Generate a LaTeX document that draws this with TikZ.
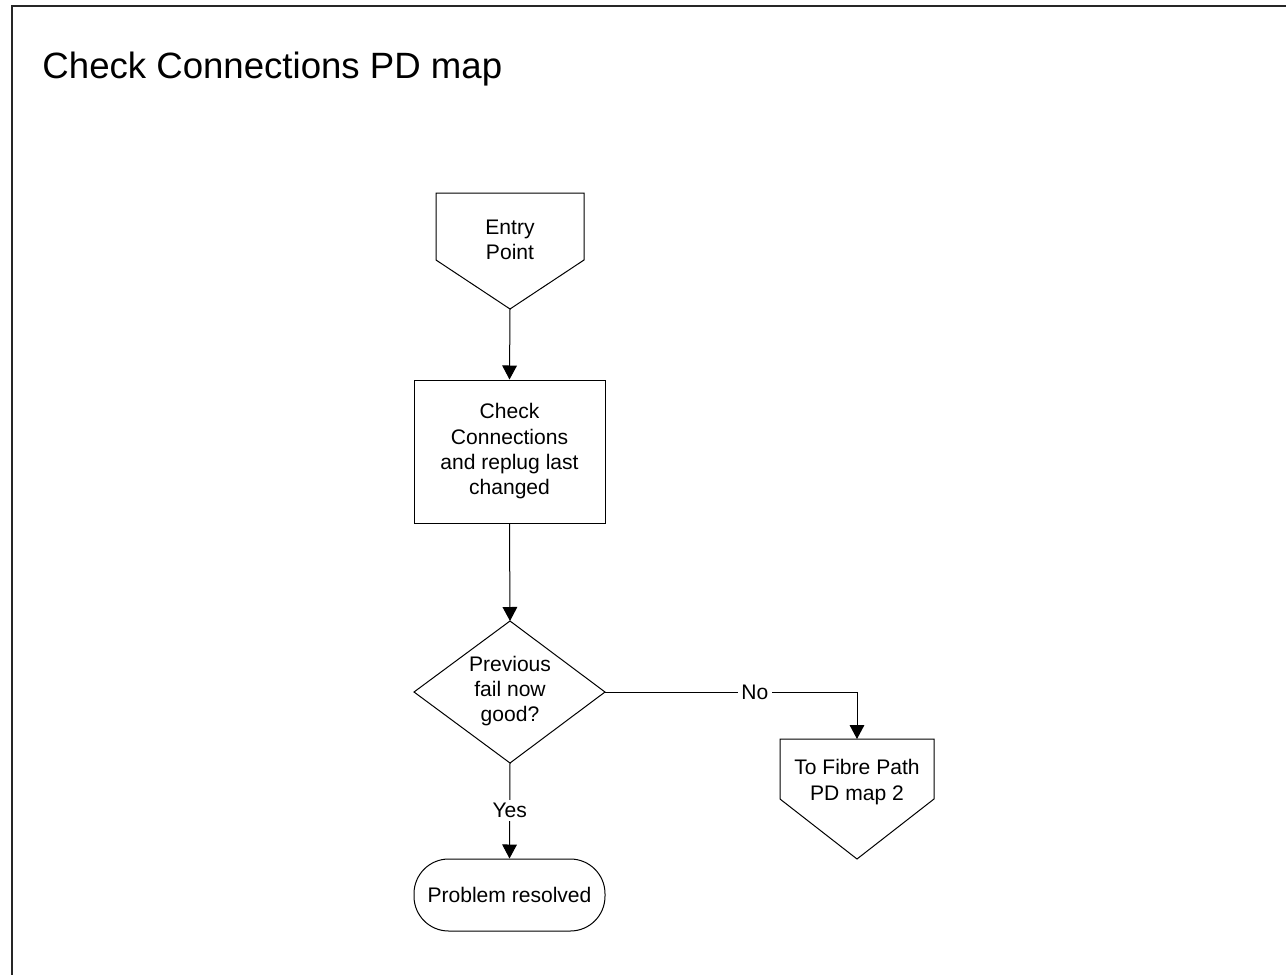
\documentclass[tikz,border=0pt]{standalone}
\usepackage{fontspec}
\setmainfont{Liberation Sans}
\usetikzlibrary{arrows.meta}
\begin{document}
\begin{tikzpicture}[x=0.75pt,y=-0.75pt,
  line width=0.75pt,
  shp/.style={draw=black, line width=0.75pt},
  txt/.style={align=center, font=\fontsize{15.8pt}{19pt}\selectfont, inner sep=0pt},
  arr/.style={-{Triangle[width=11pt,length=10.5pt]}},
  lbl/.style={fill=white, font=\fontsize{15.8pt}{19pt}\selectfont, inner sep=2.5pt}]
  \useasboundingbox (0,0) rectangle (1286,975);
  % open frame
  \draw[line width=1.3pt, black!85] (12,975) -- (12,6) -- (1286,6);
  % title
  \node[anchor=base west, inner sep=0pt, font=\fontsize{27.45pt}{32pt}\selectfont] (title) at (42,78) {Check Connections PD map};

  % entry point (off-page connector)
  \draw[shp] (436,193) -- (584,193) -- (584,260) -- (510,309) -- (436,260) -- cycle;
  \coordinate (entryTip) at (510,309);
  \node[txt] (entry) at (510,240) {Entry\\Point};

  % process box
  \node[shp, txt, minimum width=143.25pt, minimum height=107.25pt] (check) at (509.5,451.5)
    {Check\\Connections\\and replug last\\changed};

  % decision diamond
  \draw[shp] (510,621) -- (605,692) -- (510,763) -- (414,692) -- cycle;
  \coordinate (decTop) at (510,621);
  \coordinate (decRight) at (605,692);
  \coordinate (decBottom) at (510,763);
  \node[txt] (dec) at (510,691) {Previous\\fail now\\good?};

  % terminator
  \node[shp, txt, rounded corners=26pt, minimum width=143.25pt, minimum height=54pt] (done) at (509.5,895)
    {Problem resolved};

  % off-page connector to next map
  \draw[shp] (780,739) -- (934,739) -- (934,799) -- (857,859) -- (780,799) -- cycle;
  \coordinate (fibreTop) at (857,739);
  \node[txt] (fibre) at (857,782) {To Fibre Path\\PD map 2};

  % connectors
  \draw[arr] (entryTip) -- (check.north);
  \draw[arr] (check.south) -- (decTop);
  \draw[arr] (decBottom) -- node[lbl, pos=0.5] (yes) {Yes} (done.north);
  \draw[arr] (decRight) -- node[lbl, pos=0.595] (no) {No} (857,692) -- (fibreTop);
\end{tikzpicture}
\end{document}
